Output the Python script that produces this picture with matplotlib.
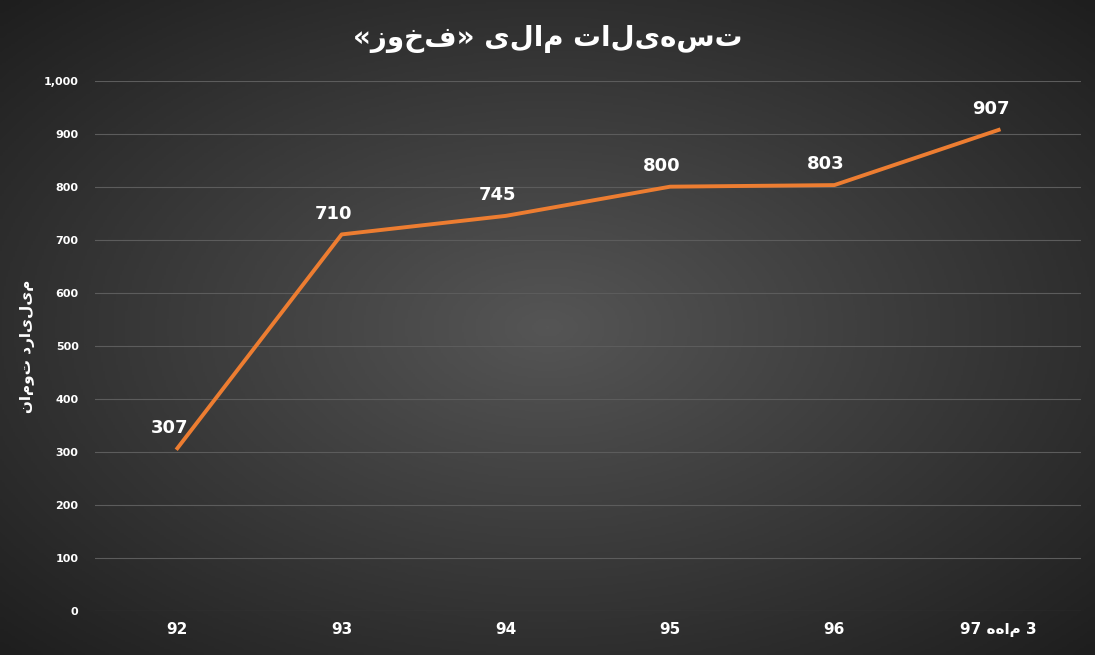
import numpy as np
import matplotlib
matplotlib.use('Agg')
import matplotlib.pyplot as plt
from matplotlib.colors import LinearSegmentedColormap

# data
years  = ["92", "93", "94", "95", "96", "3 ماهه 97"]
values = [307, 710, 745, 800, 803, 907]
title  = "تسهیلات مالی «فخوز»"
ylabel = "میلیارد تومان"


def rtl(s):
    # matplotlib has no bidi support: flip to visual order, mirror brackets
    s = s[::-1]
    return s.translate(str.maketrans("«»", "»«"))


fig = plt.figure(figsize=(10.95, 6.55), dpi=100)

# radial gradient background
bg = fig.add_axes([0, 0, 1, 1], zorder=0)
yy, xx = np.mgrid[-1:1:300j, -1:1:500j]
r = np.clip(np.sqrt(xx ** 2 + yy ** 2) / 1.414, 0, 1)
cmap = LinearSegmentedColormap.from_list('bg', ['#555555', '#1e1e1e'])
bg.imshow(r, cmap=cmap, vmin=0, vmax=1, aspect='auto', extent=[0, 1, 0, 1])
bg.axis('off')

ax = fig.add_axes([0.087, 0.067, 0.9, 0.81], zorder=1)
ax.patch.set_alpha(0)
x = np.arange(len(years))
ax.plot(x, values, color='#ED7D31', linewidth=2.8)
for xi, v in zip(x, values):
    ax.text(xi - 0.05, v + 22, str(v), color='white', fontsize=13,
            fontweight='bold', ha='center', va='bottom')

ax.set_xlim(-0.5, len(years) - 0.5)
ax.set_ylim(0, 1000)
ax.set_yticks(range(0, 1001, 100))
ax.set_yticklabels([f"{v:,}" for v in range(0, 1001, 100)])
ax.set_xticks(x)
ax.set_xticklabels(years[:-1] + ["97 " + rtl("ماهه") + " 3"])
ax.tick_params(axis='y', colors='white', labelsize=8, length=0, pad=12)
ax.tick_params(axis='x', colors='white', labelsize=11, length=0, pad=8)
for lab in ax.get_xticklabels() + ax.get_yticklabels():
    lab.set_fontweight('bold')
ax.yaxis.grid(True, color='#5c5c5c', linewidth=0.8)
ax.set_axisbelow(True)
for s in ax.spines.values():
    s.set_visible(False)
ax.set_ylabel(rtl(ylabel), color='white', fontsize=11, fontweight='bold', labelpad=6)

fig.text(0.5, 0.94, rtl(title), color='white', fontsize=20, fontweight='bold',
         ha='center', va='center')

fig.savefig('out.png', dpi=100)
